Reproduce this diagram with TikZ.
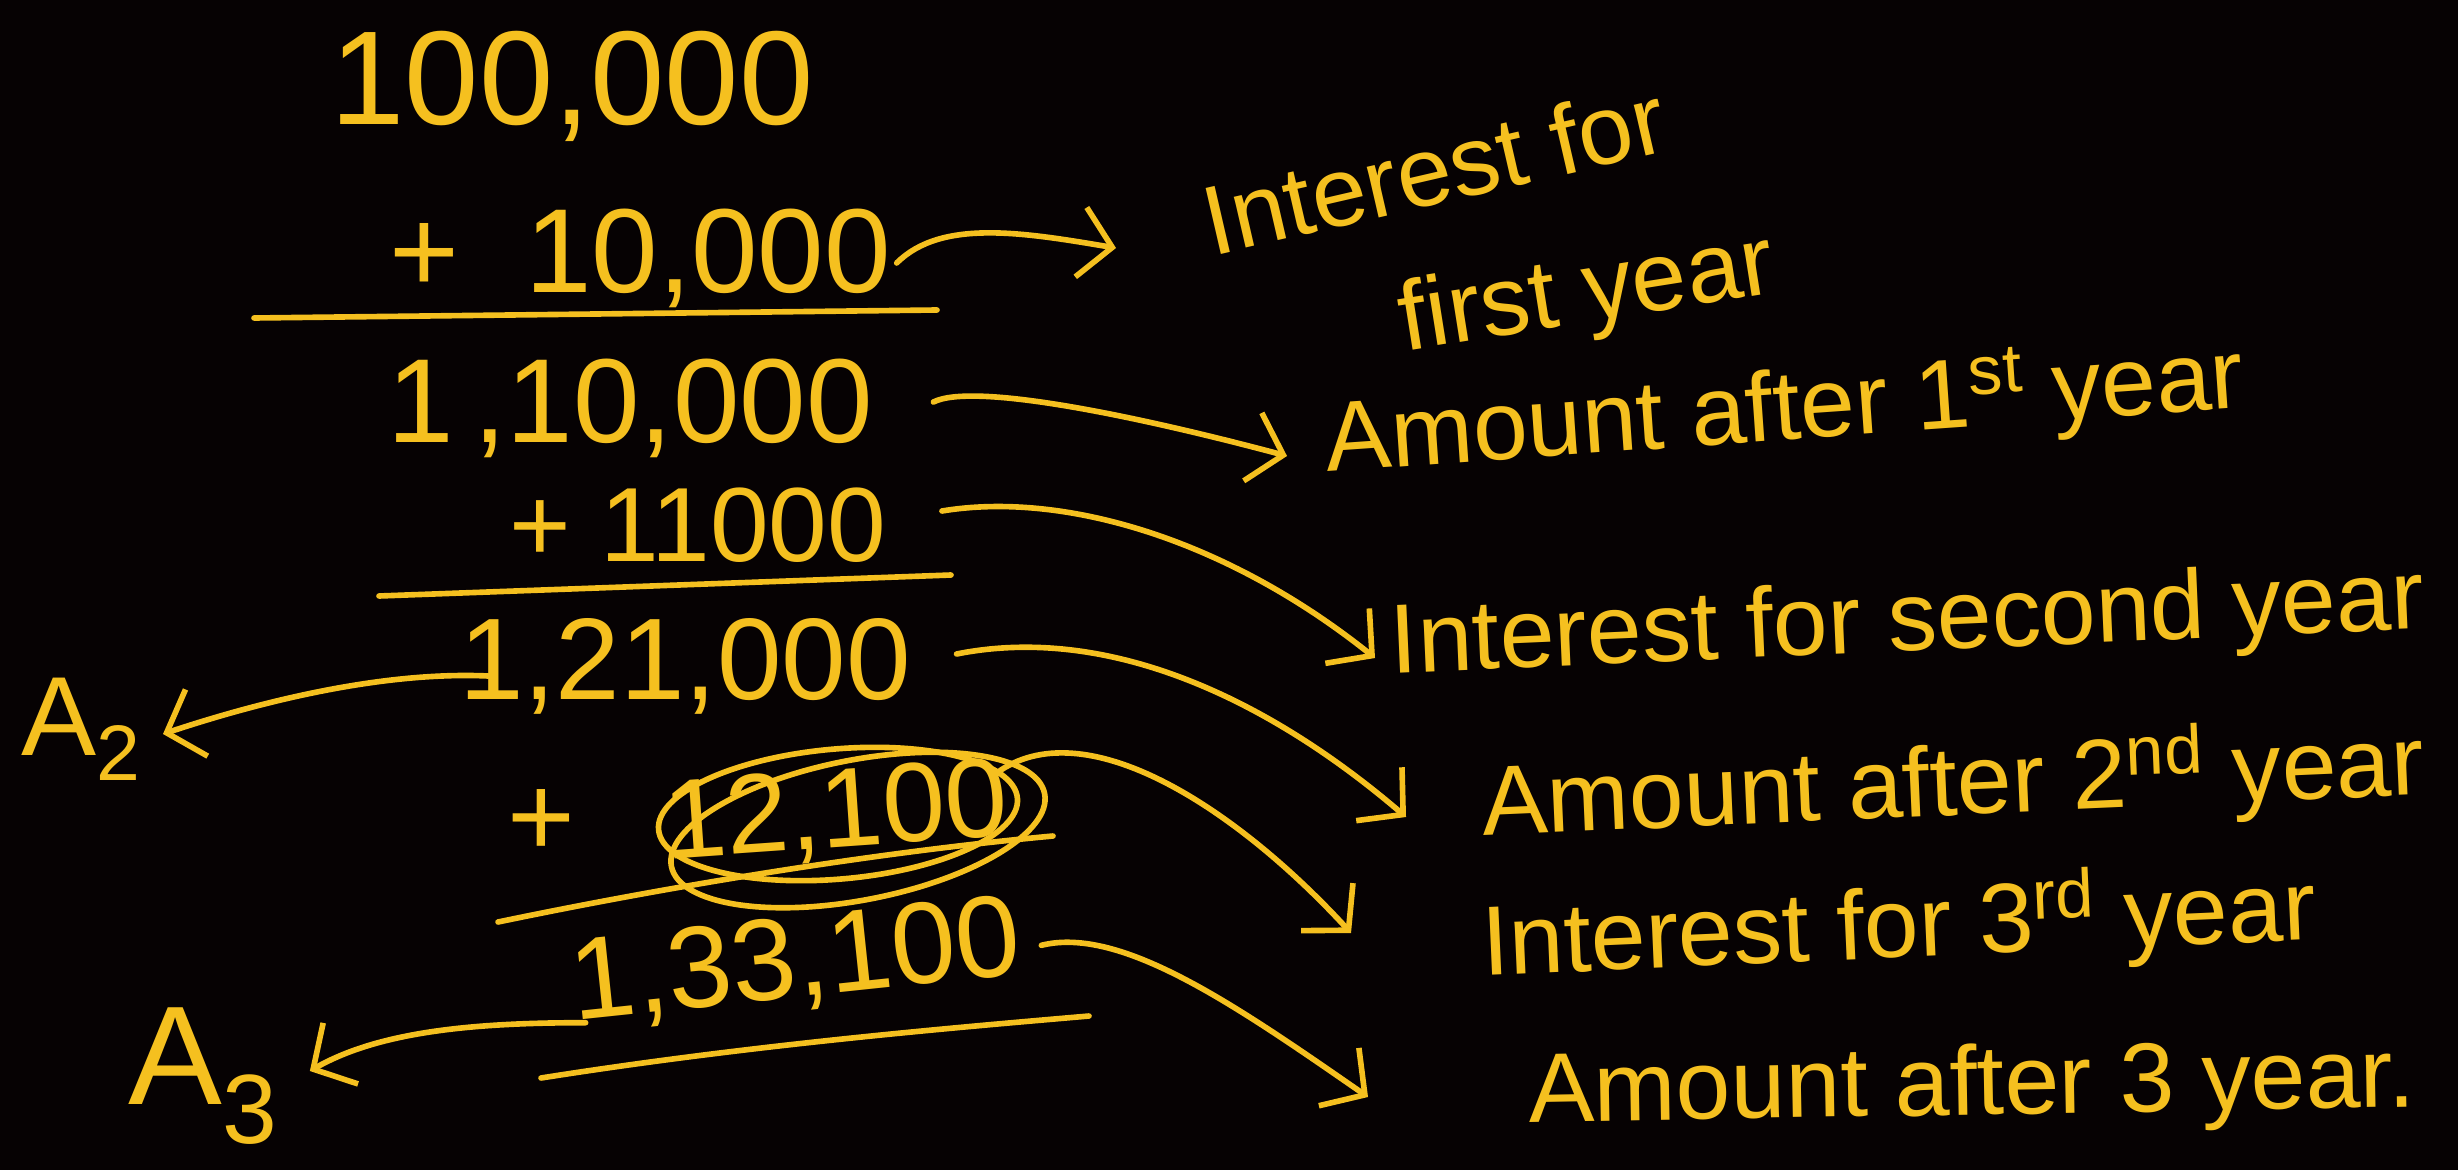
\documentclass[tikz,border=0pt]{standalone}
\usepackage{fontspec}
\setmainfont{Liberation Sans}
\usetikzlibrary{arrows.meta,calc,shapes.geometric}
\definecolor{bg}{HTML}{060203}
\definecolor{ink}{HTML}{F5C01F}
\tikzset{
  num/.style={inner sep=0pt, text=ink, font=\fontsize{33}{35}\selectfont},
  lab/.style={inner sep=0pt, text=ink, anchor=west, font=\fontsize{28}{30}\selectfont},
  stroke/.style={draw=ink, line width=1.6pt, line cap=round, line join=round},
  arr/.style={stroke, -{Straight Barb[length=9pt,width=20pt,line width=1.6pt]}},
  loop/.style={ellipse, draw=ink, line width=1.6pt, inner sep=0pt},
}
\begin{document}
\begin{tikzpicture}[x=0.01cm,y=-0.01cm]
\useasboundingbox (0,0) rectangle (2458,1170);
\fill[bg] (0,0) rectangle (2458,1170);

% numbers column
\node[num, font=\fontsize{38}{40}\selectfont] (n1) at (572,86) {100,000};
\node[num, font=\fontsize{34}{36}\selectfont] (n2) at (640,258) {+\ \ 10,000};
\node[num, font=\fontsize{34}{36}\selectfont] (n3) at (630,408) {1\,,10,000};
\node[num, font=\fontsize{30}{32}\selectfont] (n4) at (698,525) {+ 11000};
\node[num] (n5) at (685,666) {1,21,000};
\node[num] (nplus) at (541,823) {+};
\node[num, font=\fontsize{32}{34}\selectfont, rotate=4] (n7) at (836,815) {12,100};
\node[num, rotate=6] (n8) at (796,964) {1,33,100};

% circles round 12,100
\node[loop, minimum width=3.6cm, minimum height=1.3cm, rotate=5] (c1) at (838,814) {};
\node[loop, minimum width=3.8cm, minimum height=1.4cm, rotate=11] (c2) at (858,830) {};

% sum lines
\draw[stroke] (254,318) -- (937,310);
\draw[stroke] (379,596) -- (951,575);
\draw[stroke] (498,922) .. controls (700,880) and (900,850) .. (1053,836);
\draw[stroke] (541,1078) .. controls (750,1045) and (950,1028) .. (1089,1016);

% A labels
\node[num, font=\fontsize{32}{34}\selectfont] (A2) at (82,729) {A\textsubscript{2}};
\node[num, font=\fontsize{40}{42}\selectfont] (A3) at (204,1076) {A\textsubscript{3}};

% right labels
\node[lab, rotate=13] (l1) at (1204,222) {Interest for};
\node[lab, rotate=9] (l1b) at (1400,326) {first year};
\node[lab, rotate=4] (l2) at (1325,444) {Amount after 1\textsuperscript{st} year};
\node[lab, rotate=2.5] (l3) at (1390,648) {Interest for second year};
\node[lab, rotate=2.5] (l4) at (1481,805) {Amount after 2\textsuperscript{nd} year};
\node[lab, rotate=2.5] (l5) at (1481,945) {Interest for 3\textsuperscript{rd} year};
\node[lab, rotate=1] (l6) at (1528,1097) {Amount after 3 year.};

% connectors
\draw[arr] ($(n2.east)+(5,5)$) .. controls +(45,-45) and +(-90,-15) .. ($(l1.west)+(-88,26)$);
\draw[arr] ($(n3.east)+(60,-6)$) .. controls +(40,-20) and +(-150,-40) .. ($(l2.west)+(-38,12)$);
\draw[arr] ($(n4.east)+(55,-14)$) .. controls +(120,-20) and +(-150,-120) .. ($(l3.west)+(-15,10)$);
\draw[arr] ($(n5.east)+(45,-12)$) .. controls +(150,-30) and +(-140,-120) .. ($(l4.west)+(-75,12)$);
\draw[arr] (c1.10) .. controls +(90,-60) and +(-110,-120) .. ($(l5.west)+(-130,-12)$);
\draw[arr] ($(n8.east)+(20,5)$) .. controls +(80,-20) and +(-130,-90) .. ($(l6.west)+(-160,0)$);
\draw[arr] ($(n5.west)+(30,10)$) .. controls +(-110,-5) and +(90,-30) .. ($(A2.east)+(20,5)$);
\draw[arr] ($(n8.west)+(15,35)$) .. controls +(-110,0) and +(70,-40) .. ($(A3.east)+(30,-5)$);
\end{tikzpicture}
\end{document}
